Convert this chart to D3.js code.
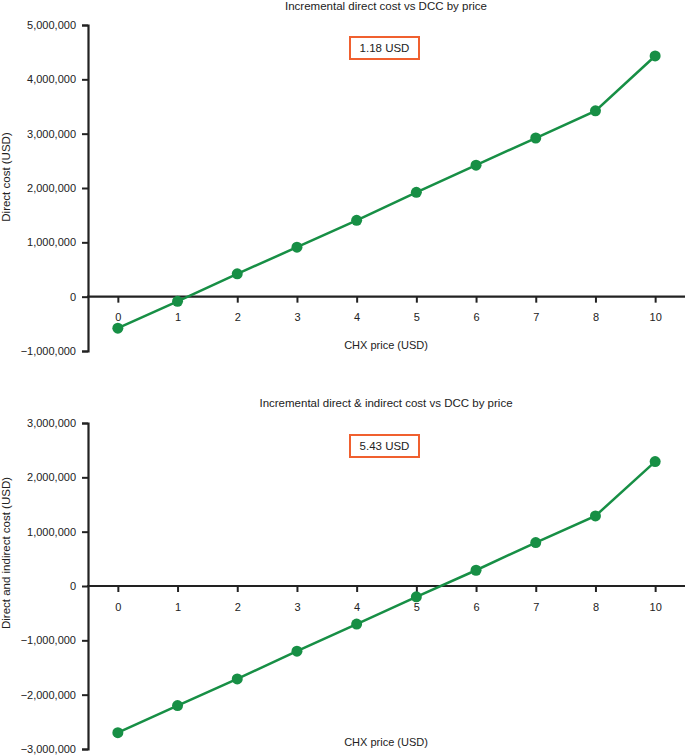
<!DOCTYPE html>
<meta charset="utf-8">
<script src="https://d3js.org/d3.v7.min.js"></script>
<style>
  body { margin: 0; background: #fff; }
  text { font-family: "Liberation Sans", Arial, sans-serif; fill: #222; }
</style>
<div id="my_dataviz"></div>
<script>

// categories on the x axis (note: no 9)
var prices = ["0", "1", "2", "3", "4", "5", "6", "7", "8", "10"];

// incremental direct cost vs DCC
var directCost = [-580000, -85000, 420000, 910000, 1405000, 1920000, 2420000, 2920000, 3420000, 4430000];

// incremental direct & indirect cost vs DCC
var totalCost = [-2700000, -2200000, -1710000, -1200000, -700000, -200000, 290000, 800000, 1290000, 2290000];

var titles = ["Incremental direct cost vs DCC by price", "Incremental direct & indirect cost vs DCC by price"];
var yLabels = ["Direct cost (USD)", "Direct and indirect cost (USD)"];
var breakEven = ["1.18 USD", "5.43 USD"];
var yDomains = [[-1000000, 5000000], [-3000000, 3000000]];
var yTicks = [[-1000000, 0, 1000000, 2000000, 3000000, 4000000, 5000000],
              [-3000000, -2000000, -1000000, 0, 1000000, 2000000, 3000000]];

var width = 685, height = 756;
var green = "#178f45";

var svg = d3.select("#my_dataviz")
  .append("svg")
    .attr("width", width)
    .attr("height", height);

var fmt = d3.format(",");

function drawPanel(i, series, top, bottom, titleY, labelY, boxY, xTitleY) {
  var x = d3.scalePoint()
    .domain(prices)
    .range([88, 685])
    .padding(0.5);

  var y = d3.scaleLinear()
    .domain(yDomains[i])
    .range([bottom, top]);

  var g = svg.append("g");

  // title
  g.append("text")
    .attr("x", 386)
    .attr("y", titleY)
    .attr("text-anchor", "middle")
    .attr("font-size", "11.5px")
    .text(titles[i]);

  // y axis
  var yAxis = g.append("g")
    .attr("transform", "translate(88,0)")
    .call(d3.axisLeft(y).tickValues(yTicks[i]).tickFormat(fmt).tickSize(6).tickPadding(6));
  yAxis.select(".domain").attr("stroke", "#222").attr("stroke-width", 2.2);
  yAxis.selectAll(".tick line").attr("stroke", "#222").attr("stroke-width", 2);
  yAxis.selectAll(".tick text").attr("font-size", "11px").attr("font-family", "Liberation Sans, Arial, sans-serif").attr("fill", "#222");

  // x axis at zero
  var xAxis = g.append("g")
    .attr("transform", "translate(0," + y(0) + ")")
    .call(d3.axisBottom(x).tickSizeInner(6).tickSizeOuter(0).tickPadding(11));
  xAxis.select(".domain").attr("stroke", "#222").attr("stroke-width", 2.2)
    .attr("d", "M87,0H685");
  xAxis.selectAll(".tick line").attr("stroke", "#222").attr("stroke-width", 2);
  xAxis.selectAll(".tick text").attr("font-size", "11px").attr("font-family", "Liberation Sans, Arial, sans-serif").attr("fill", "#222");

  // x axis title
  g.append("text")
    .attr("x", 386)
    .attr("y", xTitleY)
    .attr("text-anchor", "middle")
    .attr("font-size", "11px")
    .text("CHX price (USD)");

  // y axis title
  g.append("text")
    .attr("transform", "translate(10," + labelY + ") rotate(-90)")
    .attr("text-anchor", "middle")
    .attr("font-size", "11.5px")
    .text(yLabels[i]);

  // break-even box
  g.append("rect")
    .attr("x", 350)
    .attr("y", boxY)
    .attr("width", 69)
    .attr("height", 22)
    .attr("fill", "white")
    .attr("stroke", "#f0602f")
    .attr("stroke-width", 2);
  g.append("text")
    .attr("x", 384.5)
    .attr("y", boxY + 15)
    .attr("text-anchor", "middle")
    .attr("font-size", "11.5px")
    .text(breakEven[i]);

  // line + dots
  var line = d3.line()
    .x(function(d, j) { return x(prices[j]); })
    .y(function(d) { return y(d); });

  g.append("path")
    .datum(series)
    .attr("fill", "none")
    .attr("stroke", green)
    .attr("stroke-width", 2.5)
    .attr("d", line);

  g.selectAll("circle")
    .data(series)
    .enter()
    .append("circle")
      .attr("cx", function(d, j) { return x(prices[j]); })
      .attr("cy", function(d) { return y(d); })
      .attr("r", 5.5)
      .attr("fill", green);
}

drawPanel(0, directCost, 25, 351, 10, 177, 37, 349);
drawPanel(1, totalCost, 423, 749, 407, 553, 435, 746);

</script>
